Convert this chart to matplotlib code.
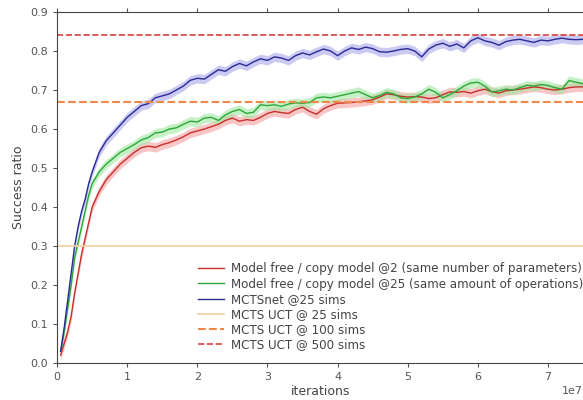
import numpy as np
import matplotlib.pyplot as plt

# iterations (x 1e7)
iters = [0.05, 0.1, 0.15, 0.2, 0.25, 0.3, 0.35, 0.4, 0.45, 0.5,
         0.6, 0.7, 0.8, 0.9, 1.0, 1.1, 1.2, 1.3, 1.4, 1.5,
         1.6, 1.7, 1.8, 1.9, 2.0, 2.1, 2.2, 2.3, 2.4, 2.5,
         2.6, 2.7, 2.8, 2.9, 3.0, 3.1, 3.2, 3.3, 3.4, 3.5,
         3.6, 3.7, 3.8, 3.9, 4.0, 4.1, 4.2, 4.3, 4.4, 4.5,
         4.6, 4.7, 4.8, 4.9, 5.0, 5.1, 5.2, 5.3, 5.4, 5.5,
         5.6, 5.7, 5.8, 5.9, 6.0, 6.1, 6.2, 6.3, 6.4, 6.5,
         6.6, 6.7, 6.8, 6.9, 7.0, 7.1, 7.2, 7.3, 7.4, 7.5]

mctsnet = [0.03, 0.09, 0.16, 0.23, 0.30, 0.35, 0.39, 0.42, 0.46, 0.49,
           0.54, 0.57, 0.59, 0.61, 0.63, 0.645, 0.66, 0.665, 0.68, 0.685,
           0.69, 0.70, 0.71, 0.725, 0.73, 0.728, 0.74, 0.752, 0.748, 0.76,
           0.768, 0.762, 0.772, 0.78, 0.776, 0.785, 0.782, 0.776, 0.788, 0.795,
           0.79, 0.798, 0.805, 0.80, 0.788, 0.80, 0.808, 0.804, 0.81, 0.806,
           0.798, 0.797, 0.80, 0.804, 0.806, 0.80, 0.785, 0.805, 0.815, 0.82,
           0.812, 0.818, 0.808, 0.826, 0.834, 0.826, 0.822, 0.815, 0.824, 0.828,
           0.83, 0.826, 0.822, 0.828, 0.826, 0.83, 0.833, 0.83, 0.829, 0.83]

free_25 = [0.03, 0.08, 0.14, 0.20, 0.27, 0.31, 0.35, 0.39, 0.43, 0.46,
           0.49, 0.51, 0.525, 0.54, 0.55, 0.56, 0.572, 0.578, 0.59, 0.592,
           0.60, 0.603, 0.612, 0.62, 0.618, 0.628, 0.63, 0.622, 0.636, 0.645,
           0.65, 0.64, 0.643, 0.662, 0.66, 0.662, 0.658, 0.664, 0.667, 0.666,
           0.668, 0.68, 0.682, 0.68, 0.684, 0.688, 0.692, 0.696, 0.688, 0.68,
           0.686, 0.694, 0.69, 0.68, 0.678, 0.682, 0.69, 0.702, 0.694, 0.68,
           0.688, 0.698, 0.71, 0.718, 0.72, 0.71, 0.695, 0.698, 0.702, 0.70,
           0.706, 0.712, 0.71, 0.714, 0.712, 0.706, 0.702, 0.724, 0.72, 0.716]

free_2 = [0.02, 0.05, 0.08, 0.12, 0.18, 0.23, 0.28, 0.32, 0.36, 0.40,
          0.44, 0.47, 0.49, 0.51, 0.525, 0.54, 0.552, 0.556, 0.553, 0.56,
          0.565, 0.572, 0.58, 0.59, 0.595, 0.60, 0.606, 0.612, 0.622, 0.628,
          0.62, 0.624, 0.622, 0.63, 0.64, 0.645, 0.642, 0.64, 0.65, 0.656,
          0.645, 0.638, 0.652, 0.66, 0.666, 0.667, 0.668, 0.67, 0.672, 0.675,
          0.682, 0.69, 0.688, 0.684, 0.682, 0.683, 0.682, 0.678, 0.68, 0.688,
          0.695, 0.694, 0.696, 0.692, 0.698, 0.702, 0.696, 0.692, 0.698, 0.70,
          0.702, 0.705, 0.708, 0.706, 0.702, 0.70, 0.702, 0.706, 0.708, 0.708]

band = 0.012
uct_25, uct_100, uct_500 = 0.30, 0.67, 0.84

x = np.array(iters) * 1e7

fig = plt.figure(figsize=(5.83, 4.0), dpi=100)
ax = fig.add_axes([0.098, 0.0925, 0.902, 0.8775])

for y, c, fc, lab in [
        (free_2, '#c8302c', '#f4a0a0', 'Model free / copy model @2 (same number of parameters)'),
        (free_25, '#2ca83a', '#a0e6a0', 'Model free / copy model @25 (same amount of operations)'),
        (mctsnet, '#2a2a96', '#a8a8ec', 'MCTSnet @25 sims')]:
    y = np.array(y)
    ax.fill_between(x, y - band, y + band, color=fc, alpha=0.6, lw=0)
    ax.plot(x, y, color=c, lw=1.0, label=lab)

ax.axhline(uct_25, color='#f6d2a0', lw=1.2, label='MCTS UCT @ 25 sims')
ax.axhline(uct_100, color='#f08848', lw=1.5, ls='--', label='MCTS UCT @ 100 sims')
ax.axhline(uct_500, color='#d8403c', lw=1.2, ls='--', label='MCTS UCT @ 500 sims')

ax.set_xlim(0, 7.5e7)
ax.set_ylim(0, 0.9)
ax.set_yticks(np.arange(0, 0.91, 0.1))
ax.set_xlabel('iterations', color='#444444', fontsize=9, labelpad=2)
ax.set_ylabel('Success ratio', color='#444444', fontsize=9)
ax.tick_params(labelsize=8, colors='#555555', direction='out', length=3, top=True)
ax.spines['right'].set_visible(False)
for s in ax.spines.values():
    s.set_color('#444444')
ax.xaxis.get_offset_text().set_fontsize(8)
ax.xaxis.get_offset_text().set_color('#555555')

leg = ax.legend(loc='lower right', frameon=False, fontsize=8.6, handlelength=2.2,
                handletextpad=0.6, borderaxespad=0.0, labelspacing=0.18,
                bbox_to_anchor=(1.01, 0.02))
for t in leg.get_texts():
    t.set_color('#444444')

fig.savefig('out.png', dpi=100)
